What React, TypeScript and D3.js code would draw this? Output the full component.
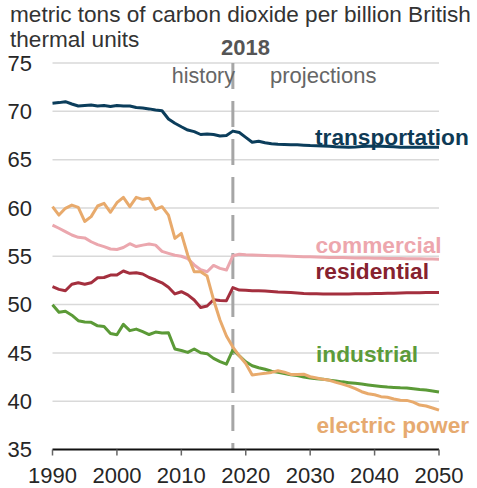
import React from "react";
import * as d3 from "d3";

const years: number[] = d3.range(1990, 2051);

const transportation: number[] = [
  70.83, 70.9, 71.0, 70.76, 70.55, 70.6, 70.65, 70.55, 70.6, 70.5,
  70.6, 70.55, 70.55, 70.4, 70.35, 70.25, 70.13, 70.06, 69.2, 68.76,
  68.4, 68.06, 67.9, 67.6, 67.65, 67.6, 67.45, 67.5, 67.95,
  67.8, 67.3, 66.8, 66.9, 66.75, 66.65, 66.58, 66.56, 66.55, 66.54,
  66.5, 66.45, 66.43, 66.4, 66.38, 66.33, 66.3, 66.28, 66.3, 66.35,
  66.38, 66.4, 66.38, 66.35, 66.33, 66.28, 66.27, 66.27, 66.28, 66.27,
  66.27, 66.27,
];

const commercial: number[] = [
  58.23, 57.9, 57.55, 57.2, 56.96, 56.9, 56.5, 56.2, 56.0, 55.75,
  55.7, 55.9, 56.3, 56.0, 56.15, 56.26, 56.15, 55.5, 55.3, 55.1,
  55.0, 54.75, 54.1, 53.6, 53.4, 54.05, 53.75, 53.57, 55.05,
  55.2, 55.15, 55.12, 55.1, 55.08, 55.06, 55.04, 55.02, 55.0, 54.98,
  54.96, 54.94, 54.92, 54.9, 54.88, 54.87, 54.86, 54.84, 54.83, 54.82,
  54.81, 54.8, 54.79, 54.78, 54.77, 54.76, 54.75, 54.74, 54.73, 54.72,
  54.71, 54.7,
];

const residential: number[] = [
  51.85, 51.57, 51.43, 52.1, 52.25, 52.1, 52.25, 52.77, 52.8, 53.05,
  53.05, 53.47, 53.23, 53.3, 53.16, 52.8, 52.54, 52.25, 51.8, 51.1,
  51.33, 51.0, 50.47, 49.7, 49.85, 50.5, 50.43, 50.4, 51.75,
  51.5, 51.47, 51.44, 51.42, 51.4, 51.35, 51.3, 51.27, 51.24, 51.2,
  51.15, 51.12, 51.11, 51.1, 51.1, 51.1, 51.1, 51.1, 51.11, 51.12,
  51.12, 51.14, 51.15, 51.17, 51.18, 51.2, 51.21, 51.22, 51.23, 51.24,
  51.25, 51.26,
];

const industrial: number[] = [
  49.98, 49.2, 49.3, 48.9, 48.33, 48.2, 48.16, 47.8, 47.74, 47.0,
  46.87, 47.95, 47.3, 47.46, 47.2, 46.9, 47.15, 47.05, 47.08, 45.4,
  45.25, 45.05, 45.4, 45.02, 44.92, 44.43, 44.1, 43.84, 45.3,
  44.7, 44.08, 43.67, 43.46, 43.3, 43.1, 42.98, 42.87, 42.73, 42.66,
  42.5, 42.4, 42.33, 42.26, 42.18, 42.1, 42.0, 41.92, 41.85, 41.77,
  41.68, 41.6, 41.53, 41.46, 41.42, 41.38, 41.36, 41.28, 41.2, 41.15,
  41.05, 40.95,
];

const electricPower: number[] = [
  60.13, 59.26, 59.96, 60.3, 60.06, 58.6, 59.1, 60.2, 60.48, 59.55,
  60.54, 61.1, 60.13, 61.1, 60.89, 61.0, 59.85, 60.13, 59.26, 56.85,
  57.37, 55.1, 53.4, 53.4, 52.95, 50.5, 48.4, 46.75, 45.6,
  44.7, 43.9, 42.7, 42.8, 42.88, 42.98, 43.15, 43.0, 42.77, 42.77,
  42.8, 42.53, 42.4, 42.26, 42.16, 41.95, 41.77, 41.56, 41.3, 40.98,
  40.77, 40.67, 40.47, 40.4, 40.22, 40.1, 40.08, 39.9, 39.6, 39.5,
  39.3, 39.08,
];

const yTicks: number[] = [35, 40, 45, 50, 55, 60, 65, 70, 75];
const xTicks: number[] = [1990, 2000, 2010, 2020, 2030, 2040, 2050];
const dividerYear = 2018;

const seriesNames = ["transportation", "commercial", "residential", "industrial", "electric power"];
const seriesValues = [transportation, commercial, residential, industrial, electricPower];
const lineColors = ["#0b3d5b", "#eba7ae", "#a42f3e", "#5b9a37", "#e8aa6c"];
const labelColors = ["#0e3a55", "#eda6ad", "#86222f", "#5c9b3a", "#e6aa70"];
const labelPos = [
  [315, 145],
  [315.5, 253.3],
  [315.5, 279],
  [316, 362.3],
  [316.5, 433.3],
];

export default function App() {
  const W = 477;
  const H = 488;
  const x = d3.scaleLinear().domain([1990, 2050]).range([52.5, 439]);
  const y = d3.scaleLinear().domain([35, 75]).range([449.5, 63]);
  const font = "'Liberation Sans', Arial, sans-serif";

  const line = d3
    .line<[number, number]>()
    .x((d) => x(d[0]))
    .y((d) => y(d[1]));

  return (
    <svg
      width={W}
      height={H}
      style={{ position: "absolute", left: 0, top: 0, background: "#fff" }}
      fontFamily={font}
    >
      <rect x={0} y={0} width={W} height={H} fill="#fff" />
      <text x={10} y={21.7} fontSize={22.6} fill="#333">
        metric tons of carbon dioxide per billion British
      </text>
      <text x={10} y={46.5} fontSize={22.6} fill="#333">
        thermal units
      </text>

      {yTicks
        .filter((t) => t !== 35)
        .map((t) => (
          <line key={"g" + t} x1={x(1990)} x2={x(2050)} y1={y(t)} y2={y(t)} stroke="#d9d9d9" strokeWidth={1.5} />
        ))}
      {yTicks.map((t) => (
        <text key={"yl" + t} x={7.5} y={y(t) + 7.8} fontSize={22} fill="#262626">
          {t}
        </text>
      ))}

      <line
        x1={x(dividerYear)}
        x2={x(dividerYear)}
        y1={y(75)}
        y2={y(35)}
        stroke="#a6a6a6"
        strokeWidth={3}
        strokeDasharray="26,12"
      />
      <text x={221} y={55} fontSize={22} fontWeight="bold" fill="#555">
        {dividerYear}
      </text>
      <text x={235} y={82.5} fontSize={21.5} textAnchor="end" fill="#666">
        history
      </text>
      <text x={270} y={82.5} fontSize={22} fill="#666">
        projections
      </text>

      {seriesValues.map((vals, i) => (
        <path
          key={"s" + i}
          d={line(years.map((yr, j) => [yr, vals[j]] as [number, number])) || ""}
          fill="none"
          stroke={lineColors[i]}
          strokeWidth={3}
          strokeLinejoin="round"
        />
      ))}

      <line x1={x(1990)} x2={x(2050)} y1={y(35)} y2={y(35)} stroke="#111" strokeWidth={2} />
      {xTicks.map((t) => (
        <g key={"xt" + t}>
          <line x1={x(t)} x2={x(t)} y1={y(35)} y2={y(35) + 6} stroke="#666" strokeWidth={1.5} />
          <text x={x(t)} y={483} fontSize={22} textAnchor="middle" fill="#262626">
            {t}
          </text>
        </g>
      ))}

      {seriesNames.map((n, i) => (
        <text
          key={"lab" + i}
          x={labelPos[i][0]}
          y={labelPos[i][1]}
          fontSize={22.7}
          fontWeight="bold"
          fill={labelColors[i]}
        >
          {n}
        </text>
      ))}
    </svg>
  );
}
